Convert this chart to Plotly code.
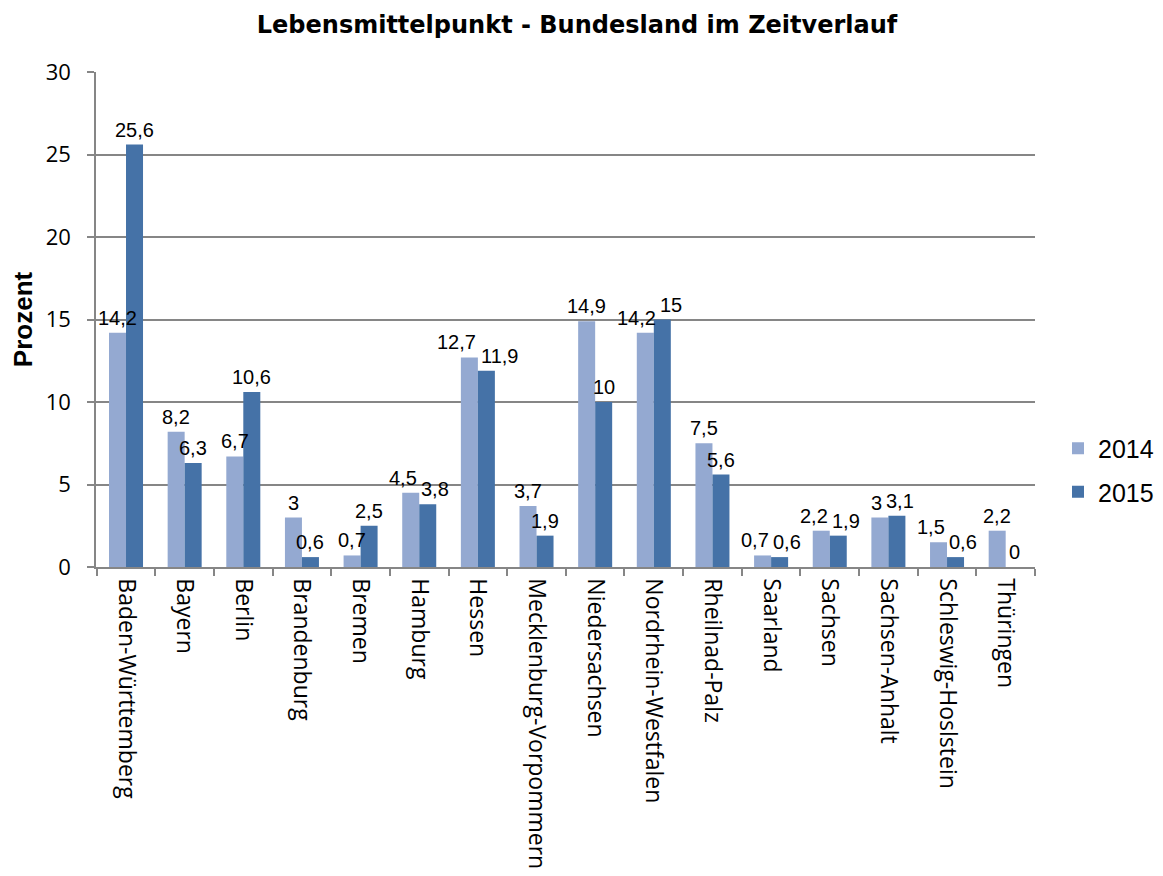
import plotly.graph_objects as go

categories = ["Baden-Württemberg", "Bayern", "Berlin", "Brandenburg", "Bremen", "Hamburg",
              "Hessen", "Mecklenburg-Vorpommern", "Niedersachsen", "Nordrhein-Westfalen",
              "Rheilnad-Palz", "Saarland", "Sachsen", "Sachsen-Anhalt", "Schleswig-Hoslstein",
              "Thüringen"]
values_2014 = [14.2, 8.2, 6.7, 3, 0.7, 4.5, 12.7, 3.7, 14.9, 14.2, 7.5, 0.7, 2.2, 3, 1.5, 2.2]
values_2015 = [25.6, 6.3, 10.6, 0.6, 2.5, 3.8, 11.9, 1.9, 10, 15, 5.6, 0.6, 1.9, 3.1, 0.6, 0]
series_names = ["2014", "2015"]
colors = ["#94A9D1", "#4572A7"]

W, H = 1163, 876
OFF = 8  # page body margin offset
ML, MT = 96 - OFF, 72 - OFF
PW, PH = 939, 495
MR, MB = W - ML - PW, H - MT - PH
BARGAP = 0.42
YMAX = 30
LABEL_SIZE = 20


def fmt(v):
    return ("%g" % v).replace(".", ",")


def text_w(s):
    # approximate width of a label in Liberation Sans
    return sum((0.278 if ch == "," else 0.556) for ch in s) * LABEL_SIZE


fig = go.Figure()
for name, vals, col in zip(series_names, [values_2014, values_2015], colors):
    fig.add_trace(go.Bar(
        x=categories, y=vals, name=name, legendgroup=name,
        marker=dict(color=col, line=dict(width=0)),
    ))

# data labels drawn on top of all bars; neighbouring labels nudged apart
cat_px = PW / len(categories)
bar_px = cat_px * (1 - BARGAP) / 2
px_per_unit = PH / YMAX
annotations = []
for c, a, b in zip(categories, values_2014, values_2015):
    ta, tb = fmt(a), fmt(b)
    sa, sb = -bar_px / 2, bar_px / 2
    if abs(a - b) * px_per_unit < LABEL_SIZE:
        overlap = (sa + text_w(ta) / 2) - (sb - text_w(tb) / 2) + 4
        if overlap > 0:
            sa -= overlap / 2
            sb += overlap / 2
    for v, t, s in ((a, ta, sa), (b, tb, sb)):
        annotations.append(dict(
            x=c, y=v, xref="x", yref="y", text=t, showarrow=False,
            xanchor="center", yanchor="bottom", xshift=s, yshift=2,
            font=dict(family="Liberation Sans, Arial", size=LABEL_SIZE, color="#000000"),
        ))

fig.update_layout(
    width=W, height=H,
    paper_bgcolor="white", plot_bgcolor="white",
    margin=dict(l=ML, r=MR, t=MT, b=MB),
    barmode="group", bargap=BARGAP, bargroupgap=0,
    title=dict(text="<b>Lebensmittelpunkt - Bundesland im Zeitverlauf</b>",
               x=(577 - OFF) / W, xref="container", xanchor="center",
               y=1 - (25 - OFF) / H, yref="container", yanchor="middle",
               font=dict(family="DejaVu Sans", size=24, color="#000000")),
    legend=dict(x=(1058 - OFF) / W, xref="container", xanchor="left",
                y=1 - (470 - OFF) / H, yref="container", yanchor="middle",
                font=dict(family="Liberation Sans, Arial", size=25, color="#000000"),
                tracegroupgap=8, itemwidth=30),
    showlegend=True,
    annotations=annotations,
)
fig.update_xaxes(
    type="category", tickangle=90, tickson="boundaries",
    ticks="outside", ticklen=7, tickcolor="#868686", tickwidth=1.5,
    showline=True, linecolor="#868686", linewidth=1.5,
    showgrid=False, automargin=False, ticklabelstandoff=5,
    tickfont=dict(family="Open Sans", size=23, color="#000000"),
)
fig.update_yaxes(
    range=[0, YMAX], dtick=5,
    ticks="outside", ticklen=7, tickcolor="#868686", tickwidth=1.5,
    showline=True, linecolor="#868686", linewidth=1.5,
    showgrid=True, gridcolor="#868686", gridwidth=1.5,
    zeroline=False, automargin=False, ticklabelstandoff=12,
    tickfont=dict(family="Open Sans", size=22, color="#000000"),
    title=dict(text="<b>Prozent</b>", standoff=10,
               font=dict(family="Liberation Sans, Arial", size=26, color="#000000")),
)

fig.write_html("out.html")
